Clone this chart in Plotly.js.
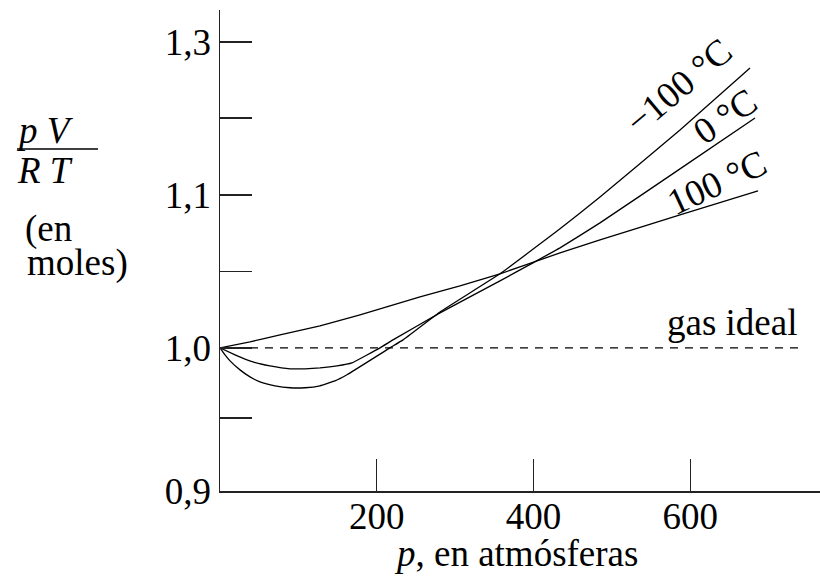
<!DOCTYPE html>
<html>
<head>
<meta charset="utf-8">
<script src="https://cdn.plot.ly/plotly-3.0.1.min.js"></script>
<style>html,body{margin:0;padding:0;background:#fff;}#chart{width:820px;height:578px;}</style>
</head>
<body>
<div id="chart"></div>
<script>
// Pressure (atm) and pV/RT values
const pMinus100 = [0, 6.4, 12.8, 25.5, 38.3, 51.0, 70.2, 89.3, 108.4, 127.6, 146.7, 162.0, 216.9, 233.5, 280.7, 357.2, 433.8, 484.8, 586.9, 676.2];
const zMinus100 = [1.0, 0.9954, 0.9915, 0.9856, 0.9810, 0.9778, 0.9752, 0.9739, 0.9739, 0.9752, 0.9784, 0.9824, 1.0, 1.0052, 1.0235, 1.0484, 1.0778, 1.0987, 1.1425, 1.1830];

const pZero = [0, 19.1, 42.1, 63.8, 89.3, 108.4, 127.6, 149.3, 168.4, 204.1, 220.7, 280.7, 357.2, 399.3, 433.8, 484.8, 586.9, 682.6];
const zZero = [1.0, 0.9954, 0.9908, 0.9882, 0.9863, 0.9863, 0.9869, 0.9882, 0.9902, 1.0, 1.0052, 1.0229, 1.0438, 1.0556, 1.0654, 1.0817, 1.1170, 1.1503];

const pPlus100 = [0, 38.3, 76.6, 127.6, 178.6, 255.2, 306.2, 357.2, 433.8, 484.8, 586.9, 686.4];
const zPlus100 = [1.0, 1.0039, 1.0085, 1.0144, 1.0216, 1.0333, 1.0405, 1.0484, 1.0621, 1.0706, 1.0869, 1.1026];

const pIdeal = [0, 740];
const zIdeal = [1.0, 1.0];

const xTickVals = [200, 400, 600];
const xTickText = ["200", "400", "600"];
const yTickVals = [0.9065, 0.9542, 1.0, 1.0497, 1.1, 1.1503, 1.2];
const yTickText = ["0,9", "", "1,0", "", "1,1", "", "1,3"];

const seriesLabels = ["\u2212100 \u00B0C", "0 \u00B0C", "100 \u00B0C", "gas ideal"];

const FONT = "'Liberation Serif', 'Times New Roman', serif";
const lineStyle = {color: "#000", width: 1.3, shape: "spline", smoothing: 0.3};

const traces = [
  {x: pMinus100, y: zMinus100, mode: "lines", line: lineStyle, hoverinfo: "skip"},
  {x: pZero, y: zZero, mode: "lines", line: lineStyle, hoverinfo: "skip"},
  {x: pPlus100, y: zPlus100, mode: "lines", line: lineStyle, hoverinfo: "skip"},
  {x: pIdeal, y: zIdeal, mode: "lines", line: {color: "#000", width: 1.2, dash: "8px,7px"}, hoverinfo: "skip"}
];

function ann(text, x, y, opts) {
  return Object.assign({text: text, x: x, y: y, xref: "paper", yref: "paper", showarrow: false,
    xanchor: "center", yanchor: "middle", font: {family: FONT, size: 37, color: "#000"}}, opts || {});
}
// pixel -> paper helpers (plot area: x 220..820, y 10..491)
const px = v => (v - 220) / 600;
const py = v => (491 - v) / 481;

const layout = {
  width: 820, height: 578,
  margin: {l: 220, r: 0, t: 10, b: 87},
  paper_bgcolor: "#fff", plot_bgcolor: "#fff",
  showlegend: false,
  font: {family: FONT, color: "#000", size: 37},
  xaxis: {
    range: [0, 765.5], showgrid: false, zeroline: false,
    showline: true, linecolor: "#222", linewidth: 1.5,
    ticks: "inside", ticklen: 32, tickwidth: 1.3, tickcolor: "#222",
    tickmode: "array", tickvals: xTickVals, ticktext: xTickText,
    ticklabelstandoff: -8,
    tickfont: {family: FONT, size: 37, color: "#000"}
  },
  yaxis: {
    range: [0.9064, 1.2209], showgrid: false, zeroline: false,
    showline: true, linecolor: "#222", linewidth: 1.5,
    ticks: "inside", ticklen: 32, tickwidth: 1.3, tickcolor: "#222",
    tickmode: "array", tickvals: yTickVals, ticktext: yTickText,
    tickfont: {family: FONT, size: 37, color: "#000"}
  },
  annotations: [
    ann(seriesLabels[0], px(678), py(86), {textangle: -40}),
    ann(seriesLabels[1], px(725), py(117), {textangle: -34}),
    ann(seriesLabels[2], px(717), py(183), {textangle: -25}),
    ann(seriesLabels[3], px(732), py(322)),
    ann("<i>p</i>, en atmósferas", px(516), py(553)),
    ann("<i>p V</i>", px(45), py(130)),
    ann("<i>R T</i>", px(45), py(170)),
    ann("(en", px(23), py(229), {xanchor: "left"}),
    ann("moles)", px(25), py(263), {xanchor: "left"})
  ],
  shapes: [
    {type: "line", xref: "paper", yref: "paper", x0: px(17), x1: px(98), y0: py(149), y1: py(149),
     line: {color: "#000", width: 1.5}}
  ]
};

Plotly.newPlot("chart", traces, layout, {displayModeBar: false, staticPlot: true});
</script>
</body>
</html>
